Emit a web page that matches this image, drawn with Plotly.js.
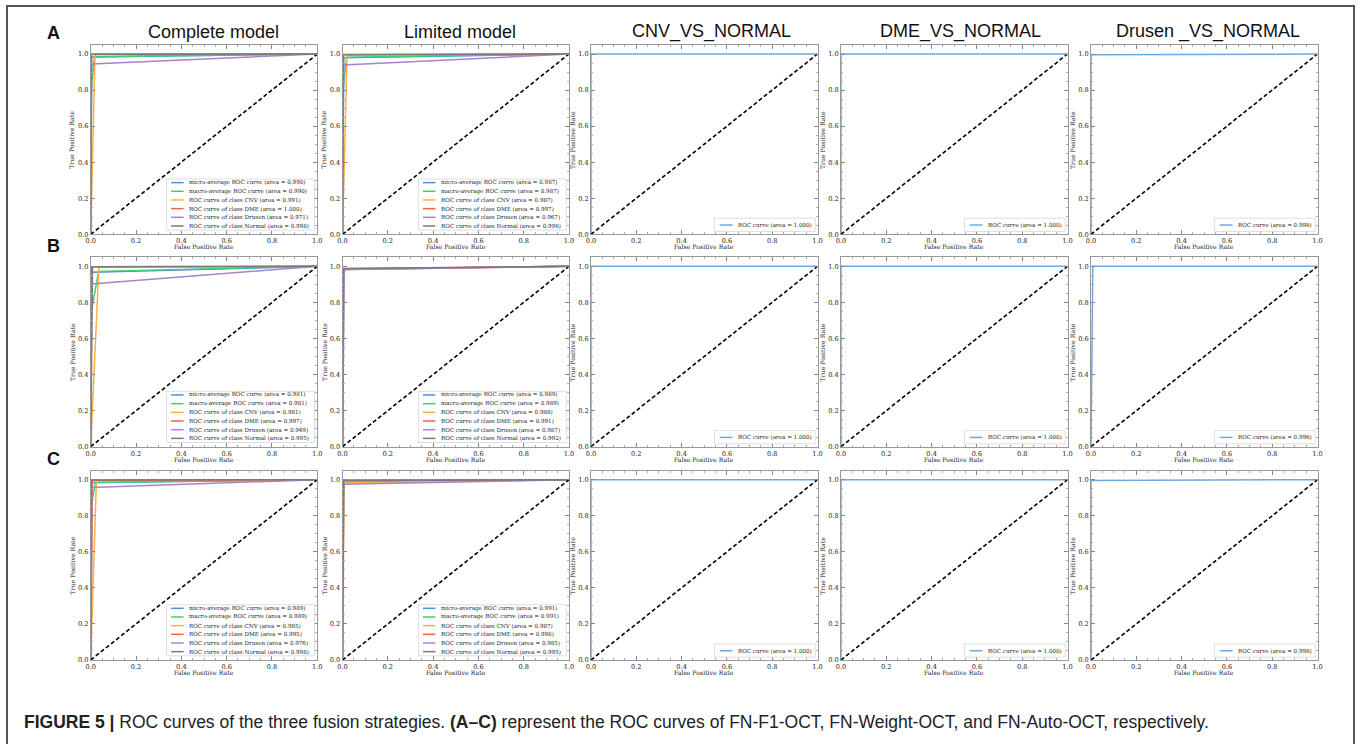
<!DOCTYPE html>
<html><head><meta charset="utf-8">
<script src="https://cdn.plot.ly/plotly-3.0.1.min.js"></script>
<style>html,body{margin:0;padding:0;background:#fff;} #chart{width:1360px;height:744px;}</style>
</head><body><div id="chart"></div>
<script>
// ---------------- DATA ----------------
const colTitles = ['Complete model', 'Limited model', 'CNV_VS_NORMAL', 'DME_VS_NORMAL', 'Drusen _VS_NORMAL'];
const rowLabels = ['A', 'B', 'C'];
const multiNames = ['micro-average ROC curve', 'macro-average ROC curve', 'ROC curve of class CNV',
  'ROC curve of class DME', 'ROC curve of class Drusen', 'ROC curve of class Normal'];
const multiColors = ['#4a90d9', '#3fcf73', '#ffae42', '#f4603e', '#a884d0', '#7a7a7a'];
const binaryName = 'ROC curve';
const binaryColor = '#6fa8dc';
const tickVals = [0, 0.2, 0.4, 0.6, 0.8, 1.0];
const tickText = ['0.0', '0.2', '0.4', '0.6', '0.8', '1.0'];
const chanceLine = [0, 1];

// Row A (FN-F1-OCT)
const fprA1 = [[0, 0.004, 1], [0, 0.003, 0.016, 1], [0, 0.019, 1], [0, 0, 1], [0, 0.004, 1], [0, 0.002, 1]];
const tprA1 = [[0, 0.984, 1], [0, 0.8, 0.985, 1], [0, 0.999, 1], [0, 1, 1], [0, 0.945, 1], [0, 0.997, 1]];
const aucA1 = [0.990, 0.990, 0.991, 1.000, 0.971, 0.998];
const fprA2 = [[0, 0.005, 1], [0, 0.003, 0.018, 1], [0, 0.02, 1], [0, 0.003, 1], [0, 0.005, 1], [0, 0.004, 1]];
const tprA2 = [[0, 0.979, 1], [0, 0.8, 0.982, 1], [0, 0.994, 1], [0, 0.997, 1], [0, 0.939, 1], [0, 0.996, 1]];
const aucA2 = [0.987, 0.987, 0.987, 0.997, 0.967, 0.996];
const fprA3 = [0, 0, 1], tprA3 = [0, 1, 1], aucA3 = 1.000;
const fprA4 = [0, 0, 1], tprA4 = [0, 1, 1], aucA4 = 1.000;
const fprA5 = [0, 0, 1], tprA5 = [0, 0.996, 1], aucA5 = 0.998;

// Row B (FN-Weight-OCT)
const fprB1 = [[0, 0.005, 1], [0, 0.003, 0.035, 1], [0, 0.036, 1], [0, 0.004, 1], [0, 0.004, 1], [0, 0.008, 1]];
const tprB1 = [[0, 0.967, 1], [0, 0.75, 0.972, 1], [0, 0.998, 1], [0, 0.998, 1], [0, 0.902, 1], [0, 0.998, 1]];
const aucB1 = [0.981, 0.981, 0.981, 0.997, 0.949, 0.995];
const fprB2 = [[0, 0.005, 1], [0, 0.003, 0.01, 1], [0, 0.006, 1], [0, 0.005, 1], [0, 0.008, 1], [0, 0.004, 1]];
const tprB2 = [[0, 0.983, 1], [0, 0.9, 0.984, 1], [0, 0.982, 1], [0, 0.987, 1], [0, 0.982, 1], [0, 0.988, 1]];
const aucB2 = [0.989, 0.989, 0.988, 0.991, 0.987, 0.992];
const fprB3 = [0, 0, 1], tprB3 = [0, 1, 1], aucB3 = 1.000;
const fprB4 = [0, 0, 1], tprB4 = [0, 1, 1], aucB4 = 1.000;
const fprB5 = [0, 0.008, 1], tprB5 = [0, 1, 1], aucB5 = 0.996;

// Row C (FN-Auto-OCT)
const fprC1 = [[0, 0.006, 1], [0, 0.003, 0.02, 1], [0, 0.025, 1], [0, 0.007, 1], [0, 0.005, 1], [0, 0.002, 1]];
const tprC1 = [[0, 0.984, 1], [0, 0.85, 0.985, 1], [0, 0.995, 1], [0, 0.997, 1], [0, 0.957, 1], [0, 0.998, 1]];
const aucC1 = [0.989, 0.989, 0.985, 0.995, 0.976, 0.998];
const fprC2 = [[0, 0.004, 1], [0, 0.002, 0.01, 1], [0, 0.008, 1], [0, 0.002, 1], [0, 0.005, 1], [0, 0.005, 1]];
const tprC2 = [[0, 0.986, 1], [0, 0.9, 0.985, 1], [0, 0.982, 1], [0, 0.998, 1], [0, 0.975, 1], [0, 0.995, 1]];
const aucC2 = [0.991, 0.991, 0.987, 0.998, 0.985, 0.995];
const fprC3 = [0, 0, 1], tprC3 = [0, 1, 1], aucC3 = 1.000;
const fprC4 = [0, 0, 1], tprC4 = [0, 1, 1], aucC4 = 1.000;
const fprC5 = [0, 0, 1], tprC5 = [0, 0.996, 1], aucC5 = 0.998;

const captionBold = 'FIGURE 5 |';
const captionText = ' ROC curves of the three fusion strategies. <b>(A–C)</b> represent the ROC curves of FN-F1-OCT, FN-Weight-OCT, and FN-Auto-OCT, respectively.';

// ---------------- LAYOUT GEOMETRY (pixels) ----------------
const W = 1360, H = 744;
const colPx = [[90.7, 317.3], [342.5, 569], [591, 817.5], [841, 1067.5], [1091, 1317.5]];
const rowPx = [[45, 234.3], [257.3, 446.7], [470.7, 660]];
const titleX = [213, 460, 711, 960, 1208];
const titleY = 32;
const rowLabelX = 53, rowLabelY = [33, 246, 459];
const xd = p => p / W, yd = p => 1 - p / H;

const panels = [
  [{m: true, f: fprA1, t: tprA1, a: aucA1}, {m: true, f: fprA2, t: tprA2, a: aucA2},
   {m: false, f: fprA3, t: tprA3, a: aucA3}, {m: false, f: fprA4, t: tprA4, a: aucA4}, {m: false, f: fprA5, t: tprA5, a: aucA5}],
  [{m: true, f: fprB1, t: tprB1, a: aucB1}, {m: true, f: fprB2, t: tprB2, a: aucB2},
   {m: false, f: fprB3, t: tprB3, a: aucB3}, {m: false, f: fprB4, t: tprB4, a: aucB4}, {m: false, f: fprB5, t: tprB5, a: aucB5}],
  [{m: true, f: fprC1, t: tprC1, a: aucC1}, {m: true, f: fprC2, t: tprC2, a: aucC2},
   {m: false, f: fprC3, t: tprC3, a: aucC3}, {m: false, f: fprC4, t: tprC4, a: aucC4}, {m: false, f: fprC5, t: tprC5, a: aucC5}]
];

const serif = 'DejaVu Serif, serif';
const sans = 'Liberation Sans, Arial, sans-serif';
const traces = [], shapes = [], annotations = [];
const layout = {
  width: W, height: H, margin: {l: 0, r: 0, t: 0, b: 0},
  paper_bgcolor: '#fff', plot_bgcolor: '#fff', showlegend: false
};

function axisCommon() {
  return {
    tickmode: 'array', tickvals: tickVals, ticktext: tickText,
    ticks: 'inside', ticklen: 4, tickwidth: 1, tickcolor: '#888',
    showline: true, linecolor: '#999', linewidth: 1, mirror: 'ticks',
    showgrid: false, zeroline: false, fixedrange: true,
    tickfont: {family: serif, size: 6.6, color: '#222'},
    minor: {tickmode: 'linear', tick0: 0, dtick: 0.05, ticks: 'inside', ticklen: 2, tickcolor: '#aaa', showgrid: false}
  };
}

const fmt = v => v.toFixed(3);

for (let r = 0; r < 3; r++) {
  for (let c = 0; c < 5; c++) {
    const k = r * 5 + c + 1;
    const xn = k === 1 ? 'x' : 'x' + k, yn = k === 1 ? 'y' : 'y' + k;
    const xa = axisCommon(), ya = axisCommon();
    xa.domain = [xd(colPx[c][0]), xd(colPx[c][1])]; xa.range = [0, 1]; xa.anchor = yn;
    ya.domain = [yd(rowPx[r][1]), yd(rowPx[r][0])]; ya.range = [0, 1.05]; ya.anchor = xn;
    layout[k === 1 ? 'xaxis' : 'xaxis' + k] = xa;
    layout[k === 1 ? 'yaxis' : 'yaxis' + k] = ya;
    const p = panels[r][c];
    const xr = xn + ' domain', yr = yn + ' domain';
    let entries = [];
    if (p.m) {
      for (let i = 0; i < 6; i++) {
        traces.push({x: p.f[i], y: p.t[i], xaxis: xn, yaxis: yn, type: 'scatter', mode: 'lines',
          line: {color: multiColors[i], width: 1.5}, name: multiNames[i], hoverinfo: 'skip'});
        entries.push({label: multiNames[i] + ' (area = ' + fmt(p.a[i]) + ')', color: multiColors[i]});
      }
    } else {
      traces.push({x: p.f, y: p.t, xaxis: xn, yaxis: yn, type: 'scatter', mode: 'lines',
        line: {color: binaryColor, width: 1.5}, name: binaryName, hoverinfo: 'skip'});
      entries.push({label: binaryName + ' (area = ' + fmt(p.a) + ')', color: binaryColor});
    }
    traces.push({x: chanceLine, y: chanceLine, xaxis: xn, yaxis: yn, type: 'scatter', mode: 'lines',
      line: {color: '#000', width: 1.6, dash: '4px,2.5px'}, hoverinfo: 'skip', showlegend: false});

    // legend (drawn manually, matplotlib-style, lower right)
    let box, sx0, sx1, tx, y0, dy;
    if (p.m) { box = [0.335, 0.988, 0.022, 0.292]; sx0 = 0.355; sx1 = 0.41; tx = 0.427; y0 = 0.273; dy = 0.0458; }
    else { box = [0.545, 0.99, 0.015, 0.085]; sx0 = 0.568; sx1 = 0.625; tx = 0.641; y0 = 0.049; dy = 0; }
    shapes.push({type: 'rect', xref: xr, yref: yr, x0: box[0], x1: box[1], y0: box[2], y1: box[3],
      line: {color: '#d6d6d6', width: 0.8}, fillcolor: 'rgba(255,255,255,0.85)', layer: 'above'});
    entries.forEach((e, i) => {
      const yy = y0 - i * dy;
      shapes.push({type: 'line', xref: xr, yref: yr, x0: sx0, x1: sx1, y0: yy, y1: yy,
        line: {color: e.color, width: 1.5}, layer: 'above'});
      annotations.push({xref: xr, yref: yr, x: tx, y: yy, xanchor: 'left', yanchor: 'middle', showarrow: false,
        text: e.label, font: {family: serif, size: 5.6, color: '#222'}});
    });
    // axis titles
    annotations.push({xref: xr, yref: yr, x: 0.5, y: -0.067, xanchor: 'center', yanchor: 'middle', showarrow: false,
      text: 'False Positive Rate', font: {family: serif, size: 6.2, color: '#222'}});
    annotations.push({xref: xr, yref: yr, x: -0.082, y: 0.5, xanchor: 'center', yanchor: 'middle', showarrow: false,
      textangle: -90, text: 'True Positive Rate', font: {family: serif, size: 6.2, color: '#222'}});
  }
}

// column titles
colTitles.forEach((t, c) => annotations.push({xref: 'paper', yref: 'paper', x: xd(titleX[c]), y: yd(titleY),
  xanchor: 'center', yanchor: 'middle', showarrow: false, text: t, font: {family: sans, size: 18, color: '#111'}}));
// row labels
rowLabels.forEach((t, r) => annotations.push({xref: 'paper', yref: 'paper', x: xd(rowLabelX), y: yd(rowLabelY[r]),
  xanchor: 'center', yanchor: 'middle', showarrow: false, text: '<b>' + t + '</b>', font: {family: sans, size: 18, color: '#111'}}));
// caption
annotations.push({xref: 'paper', yref: 'paper', x: xd(22), y: yd(722), xanchor: 'left', yanchor: 'middle', showarrow: false,
  text: '<b>' + captionBold + '</b>' + captionText, font: {family: sans, size: 17.5, color: '#222'}});
// figure frame
shapes.push({type: 'rect', xref: 'paper', yref: 'paper', x0: xd(7), x1: xd(1354), y0: -0.05, y1: yd(6),
  line: {color: '#555', width: 2}, layer: 'above'});

layout.shapes = shapes;
layout.annotations = annotations;
Plotly.newPlot('chart', traces, layout, {staticPlot: true, displayModeBar: false});
</script>
</body></html>
